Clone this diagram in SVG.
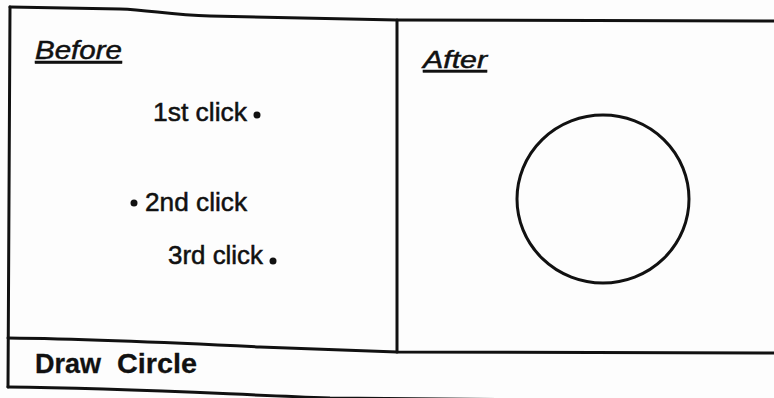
<svg xmlns="http://www.w3.org/2000/svg" width="774" height="398" viewBox="0 0 774 398">
<style>
.frame{fill:none;stroke:#111;stroke-width:3;stroke-linecap:round;stroke-linejoin:round}
.lbl{font-family:"Liberation Sans",Arial,sans-serif;fill:#111;stroke:#111;stroke-width:0.5}
.head{font-style:italic;text-decoration:underline}
.click{font-size:25px}
.title{font-size:28px;font-weight:bold;stroke-width:0.3}
.dot{fill:#111}
</style>
<rect width="774" height="398" fill="#fdfdfd"/>
<g id="frame">
<path class="frame" d="M10,7 L120,9 C150,10 170,15 210,16 L397,20 L776,21"/>
<path class="frame" d="M10,7 L8,387"/>
<path class="frame" d="M8,338 C100,339 200,344 260,347 L397,352 L776,353"/>
<path class="frame" d="M8,387 C120,388 200,393 330,398 L776,402"/>
<path class="frame" d="M397,20 L397,352"/>
</g>
<g id="before">
<text class="lbl head" x="35" y="59" font-size="26" textLength="87" lengthAdjust="spacingAndGlyphs">Before</text>
</g>
<g id="click1">
<text class="lbl click" x="153" y="121" textLength="94" lengthAdjust="spacingAndGlyphs">1st click</text>
<circle class="dot" cx="257" cy="115" r="3.5"/>
</g>
<g id="click2">
<circle class="dot" cx="134" cy="203" r="3.5"/>
<text class="lbl click" x="145" y="211" textLength="102" lengthAdjust="spacingAndGlyphs">2nd click</text>
</g>
<g id="click3">
<text class="lbl click" x="168" y="264" textLength="95" lengthAdjust="spacingAndGlyphs">3rd click</text>
<circle class="dot" cx="273" cy="261" r="3.5"/>
</g>
<g id="after">
<text class="lbl head" x="423" y="68" font-size="24" textLength="64" lengthAdjust="spacingAndGlyphs">After</text>
</g>
<g id="circle">
<ellipse cx="603" cy="199" rx="86" ry="84" fill="none" stroke="#111" stroke-width="3"/>
</g>
<g id="command">
<text class="lbl title" x="35" y="373"><tspan textLength="66" lengthAdjust="spacingAndGlyphs">Draw</tspan> <tspan x="117" textLength="80" lengthAdjust="spacingAndGlyphs">Circle</tspan></text>
</g>
</svg>
